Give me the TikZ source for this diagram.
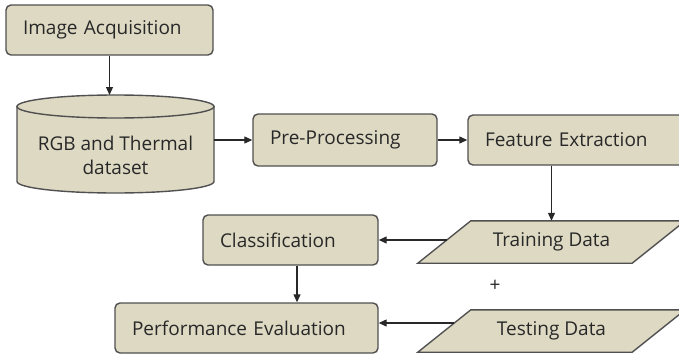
\documentclass[tikz,border=0pt]{standalone}
\usepackage{fontspec}
\setmainfont{Open Sans}
\usetikzlibrary{arrows.meta,calc,backgrounds}
\definecolor{boxfill}{RGB}{221,217,195}
\definecolor{boxline}{RGB}{80,80,80}
\definecolor{txt}{RGB}{40,40,40}
\definecolor{arrline}{RGB}{40,40,40}
\tikzset{
  stepbox/.style={draw=boxline, fill=boxfill, line width=1.4pt, rounded corners=5pt,
    minimum height=50pt, inner xsep=17pt, align=left, text=txt,
    font=\fontsize{19}{22}\selectfont},
  plain/.style={inner sep=0pt, text=txt, font=\fontsize{19}{24}\selectfont, align=center},
  shapeline/.style={draw=boxline, fill=boxfill, line width=1.4pt},
  arr/.style={draw=arrline, line width=1.2pt, -{Triangle[length=8pt,width=7pt]}}
}
\begin{document}
\begin{tikzpicture}[x=1pt, y=-1pt]
\useasboundingbox (0,0) rectangle (679,356);
\clip (0,0) rectangle (679,356);

% process boxes
\node[stepbox, minimum width=207pt, text width=173pt] (acq) at (109.5,30) {Image Acquisition};
\node[stepbox, minimum width=184pt, minimum height=52pt, text width=150pt] (pre) at (345,140) {Pre-Processing};
\node[stepbox, minimum width=230pt, text width=196pt] (feat) at (583,140) {Feature Extraction};
\node[stepbox, minimum width=175pt, text width=141pt] (cls) at (290.5,240) {Classification};
\node[stepbox, minimum width=263pt, text width=229pt] (perf) at (246.5,328) {Performance Evaluation};

% dataset drum: the node spans the drum's width, the drum is drawn around it
\node[plain, minimum width=197pt] (data) at (115.5,155) {RGB and Thermal\\dataset};
\coordinate (datatop) at ($(data.center)+(0,-60)$);

% input/output parallelograms
\node[plain, minimum width=267pt, minimum height=42pt] (train) at (551.5,242) {Training Data};
\node[plain, minimum width=267pt, minimum height=42pt] (test) at (551.5,331) {Testing Data};
\node[plain] (plus) at (495,286) {+};

\begin{pgfonlayer}{background}
  \fill[white] (0,0) rectangle (679,356);
  \path[shapeline] ($(data.center)+(-98.5,-48.5)$) -- ($(data.center)+(-98.5,26.5)$)
    arc[start angle=180, end angle=360, x radius=98.5, y radius=-11.5]
    -- ($(data.center)+(98.5,-48.5)$) -- cycle;
  \draw[shapeline] ($(data.center)+(0,-48.5)$) ellipse[x radius=98.5, y radius=11.5];
  \foreach \n in {train,test}{
    \path[shapeline] (\n.south west) -- ($(\n.north west)+(53,0)$) -- (\n.north east)
      -- ($(\n.south east)-(53,0)$) -- cycle;
  }
\end{pgfonlayer}

% connectors
\draw[arr] (acq.south) -- (acq.south |- datatop);
\draw[arr] ([yshift=15pt]data.east) -- ([yshift=15pt]data.east -| pre.west);
\draw[arr] (pre.east) -- (feat.west);
\draw[arr] (train.north |- feat.south) -- (train.north);
\draw[arr] ([xshift=29pt,yshift=2pt]train.west) -- ([yshift=2pt]train.west -| cls.east);
\draw[arr] ([xshift=6.5pt]cls.south) -- ([xshift=6.5pt]cls.south |- perf.north);
\draw[arr] ([xshift=36pt,yshift=8pt]test.west) -- ([yshift=8pt]test.west -| perf.east);
\end{tikzpicture}
\end{document}
